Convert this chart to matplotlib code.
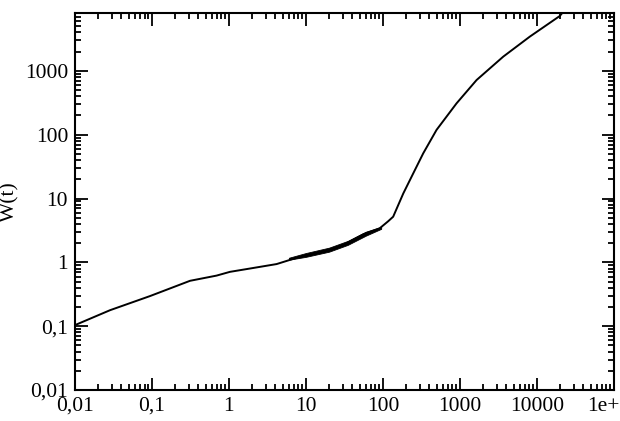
import matplotlib
matplotlib.use("Agg")
import matplotlib.pyplot as plt
from matplotlib.ticker import NullFormatter, LogLocator

# curve (log-log)
t = [0.01, 0.0285, 0.094, 0.312, 0.69, 1.03, 1.87, 4.16, 7.6, 16.8, 30.5, 55.6,
     91, 117, 136, 184, 248, 334, 498, 906, 1650, 3660, 8110, 19900, 22000]
w = [0.104, 0.178, 0.296, 0.514, 0.62, 0.71, 0.8, 0.94, 1.18, 1.47, 1.87, 2.75,
     3.42, 4.4, 5.19, 12, 24.8, 51, 119, 310, 719, 1670, 3440, 7250, 8400]

# noisy stretch: rough envelope of the fluctuations
band_t = [6, 10, 20, 35, 60, 95]
band_lo = [1.1, 1.22, 1.47, 1.88, 2.62, 3.35]
band_hi = [1.18, 1.4, 1.7, 2.17, 3.02, 3.6]

xticks = [0.01, 0.1, 1, 10, 100, 1000, 10000, 100000]
xtick_labels = ["0,01", "0,1", "1", "10", "100", "1000", "10000", "1e+05"]
yticks = [0.01, 0.1, 1, 10, 100, 1000]
ytick_labels = ["0,01", "0,1", "1", "10", "100", "1000"]

plt.rcParams["font.family"] = ["Liberation Serif", "DejaVu Serif"]

fig = plt.figure(figsize=(6.2, 4.21), dpi=100)
ax = fig.add_axes([0.121, 0.0736, 0.869, 0.895])

ax.plot(t, w, color="black", linewidth=1.4)
ax.fill_between(band_t, band_lo, band_hi, color="black", linewidth=0.6)

ax.set_xscale("log")
ax.set_yscale("log")
ax.set_xlim(0.01, 1e5)
ax.set_ylim(0.01, 8000)

ax.set_xticks(xticks, xtick_labels)
ax.set_yticks(yticks, ytick_labels)
ax.xaxis.set_minor_locator(LogLocator(subs=range(2, 10), numticks=20))
ax.yaxis.set_minor_locator(LogLocator(subs=range(2, 10), numticks=20))
ax.xaxis.set_minor_formatter(NullFormatter())
ax.yaxis.set_minor_formatter(NullFormatter())

ax.tick_params(which="both", direction="in", top=True, right=True, width=1.3)
ax.tick_params(which="major", length=9, labelsize=15.5, pad=5)
ax.tick_params(which="minor", length=4.5)
for s in ax.spines.values():
    s.set_linewidth(1.5)

ax.set_ylabel("W(t)", fontsize=15.5, labelpad=4)

fig.savefig("out.png", dpi=100)
